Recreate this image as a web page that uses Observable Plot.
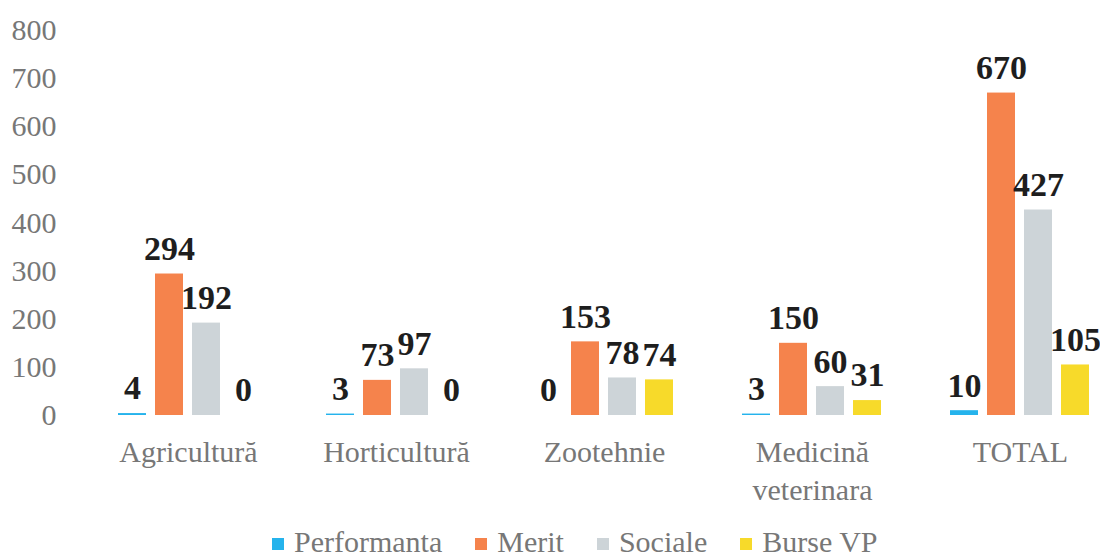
<!DOCTYPE html>
<html><head><meta charset="utf-8">
<script src="https://cdn.jsdelivr.net/npm/d3@7"></script>
<script src="https://cdn.jsdelivr.net/npm/@observablehq/plot@0.6"></script>
<style>
body{margin:0;background:#fff;font-family:"Liberation Serif",serif;width:1100px;height:560px;overflow:hidden;}
#chart svg{display:block;}
#legend{display:flex;align-items:center;margin-left:272px;height:64px;font-size:30px;line-height:1;color:#777;}
#legend .item{display:flex;align-items:center;margin-right:33px;}
#legend .sw{width:12px;height:12px;margin-right:10px;margin-top:4px;}
</style></head><body><div id="chart"></div><div id="legend"></div>
<script>
const categories = ["Agricultură","Horticultură","Zootehnie","Medicină veterinara","TOTAL"];
const series = ["Performanta","Merit","Sociale","Burse VP"];
const performanta = [4,3,0,3,10];
const merit = [294,73,153,150,670];
const sociale = [192,97,78,60,427];
const burseVP = [0,0,74,31,105];
const colors = ["#25b3ec","#f5834c","#cdd4d8","#f7da2a"];
const yTicks = [0,100,200,300,400,500,600,700,800];

const seriesValues = [performanta, merit, sociale, burseVP];
const rows = categories.flatMap((c,i)=>seriesValues.map((arr,j)=>({category:c, series:series[j], value:arr[i]})));

const chart = Plot.plot({
  width:1100, height:510, marginTop:30, marginBottom:95, marginLeft:84, marginRight:0,
  style:{fontFamily:"Liberation Serif", background:"#fff", overflow:"visible"},
  fx:{domain:categories, range:[84,1124], paddingInner:0.288, paddingOuter:0.144, label:null},
  x:{domain:series, paddingInner:0.24, paddingOuter:0.12, axis:null},
  y:{domain:[0,800], axis:null},
  color:{domain:series, range:colors},
  marks:[
    Plot.axisY({ticks:yTicks, tickSize:0, tickPadding:58, fontSize:30, fill:"#777", label:null, fontFamily:"Liberation Serif"}),
    Plot.axisFx({anchor:"bottom", tickSize:0, tickPadding:20, fontSize:30, lineHeight:1.25, fill:"#777", label:null,
      fontFamily:"Liberation Serif", tickFormat:d=>d.replace(" ","\n")}),
    Plot.barY(rows,{fx:"category", x:"series", y:"value", fill:"series"}),
    Plot.text(rows,{fx:"category", x:"series", y:"value", text:d=>String(d.value), dy:-25,
      fontSize:34, fontWeight:"bold", fill:"#1e1e1e", fontFamily:"Liberation Serif"})
  ]
});
document.getElementById("chart").appendChild(chart);

const legend = document.getElementById("legend");
series.forEach((s,i)=>{
  const it = document.createElement("div"); it.className="item";
  const sw = document.createElement("span"); sw.className="sw"; sw.style.background=colors[i];
  const tx = document.createElement("span"); tx.textContent=s;
  it.appendChild(sw); it.appendChild(tx); legend.appendChild(it);
});
</script></body></html>
